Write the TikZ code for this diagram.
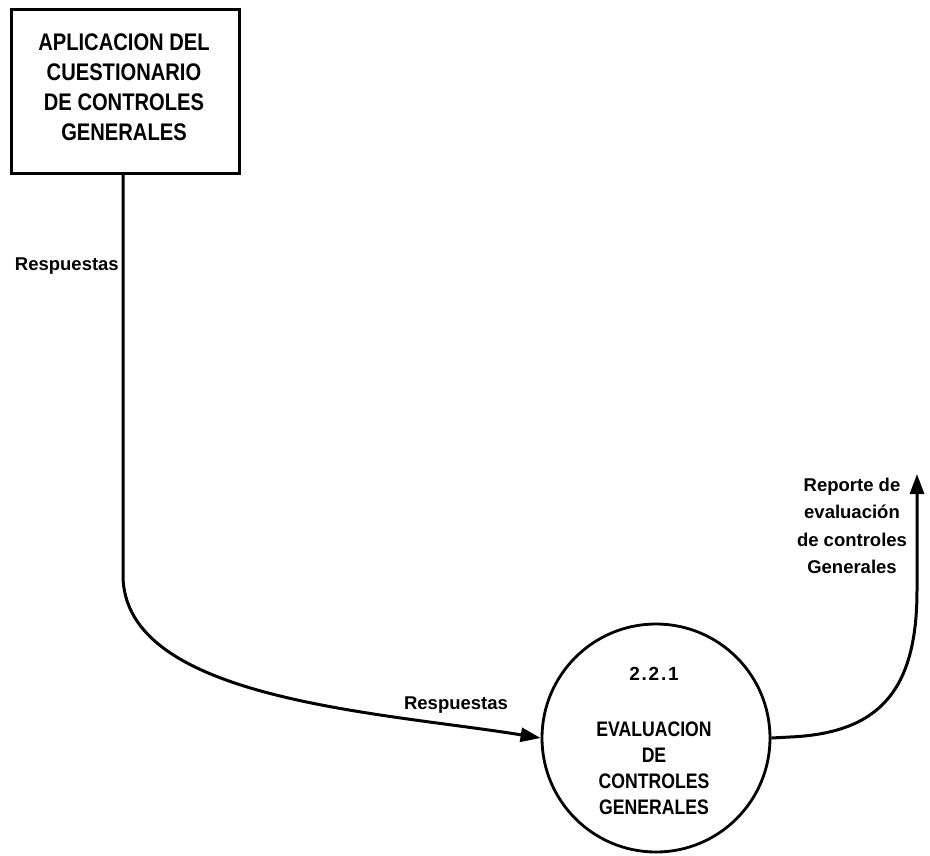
\documentclass[tikz,border=0pt]{standalone}
\usepackage{fontspec}
\setmainfont{Liberation Sans}
\newfontfamily\capsfont{Liberation Sans}[FakeStretch=0.84]
\usetikzlibrary{arrows.meta}
\newcommand{\numgap}{\kern1.8pt}
\begin{document}
\begin{tikzpicture}[x=1pt,y=-1pt,
  flow/.style={line width=3pt,-{Triangle[length=20pt,width=14pt]}},
  lbl/.style={font=\fontsize{18.5}{27.5}\selectfont\bfseries,align=center,inner sep=0pt},
  boxtxt/.style={font=\capsfont\fontsize{24}{30}\selectfont\bfseries,align=center,inner sep=0pt}]
\useasboundingbox (0,0) rectangle (930,855);
% external entity
\node[draw,line width=2.6pt,minimum width=228pt,minimum height=164pt,anchor=north west]
  (ent) at (10,8) {};
\node[boxtxt] (enttxt) at (124,87) {APLICACION DEL\\CUESTIONARIO\\DE CONTROLES\\GENERALES};
% process bubble
\node[draw,circle,line width=2.8pt,minimum size=228pt,inner sep=0pt] (proc) at (656,738) {};
\node[inner sep=0pt,font=\fontsize{19}{22}\selectfont\bfseries] (num) at (654,674) {2\numgap.\numgap2\numgap.\numgap1};
\node[boxtxt,font=\capsfont\fontsize{21}{26}\selectfont\bfseries] (pname) at (654,768) {EVALUACION\\DE\\CONTROLES\\GENERALES};
% flows
\coordinate (bend) at (123,575);
\draw[flow] (ent.south -| bend) -- (bend) .. controls (123,700) and (380,712) .. (proc.west);
\coordinate (outtop) at (917,474);
\draw[flow] (proc.east) -- (790,737) .. controls (880,733) and (917,690) .. (917,590) -- (outtop);
% flow labels
\node[lbl,anchor=east] (r1) at (119,266) {Respuestas};
\node[lbl] (r2) at (456,705) {Respuestas};
\node[lbl] (rep) at (852,526) {Reporte de\\evaluación\\de controles\\Generales};
\end{tikzpicture}
\end{document}
